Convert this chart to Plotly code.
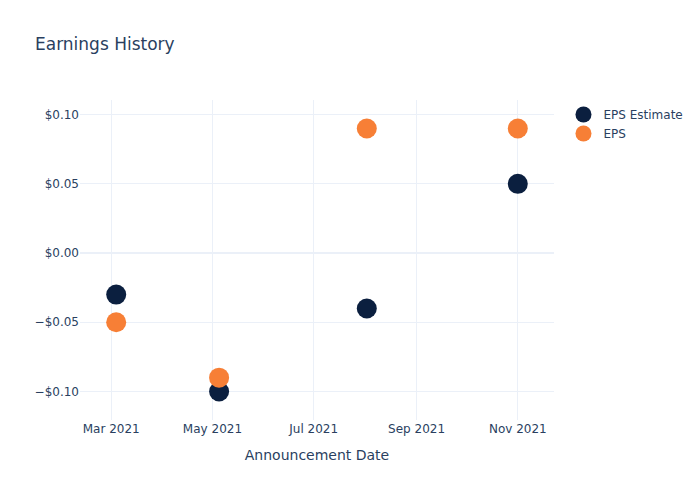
import plotly.graph_objects as go

dates = ["2021-03-04", "2021-05-05", "2021-08-02", "2021-11-01"]
eps_estimate = [-0.03, -0.10, -0.04, 0.05]
eps_actual = [-0.05, -0.09, 0.09, 0.09]

fig = go.Figure()
fig.add_trace(go.Scatter(x=dates, y=eps_estimate, mode="markers", name="EPS Estimate",
                         marker=dict(color="#0b1f3f", size=20)))
fig.add_trace(go.Scatter(x=dates, y=eps_actual, mode="markers", name="EPS",
                         marker=dict(color="#f77f36", size=20)))
fig.update_layout(
    template="plotly_white",
    width=700, height=500,
    font=dict(family="DejaVu Sans"),
    title=dict(text="Earnings History"),
    xaxis=dict(title=dict(text="Announcement Date")),
    yaxis=dict(tickformat="$.2f"),
)
fig.write_html("out.html")
